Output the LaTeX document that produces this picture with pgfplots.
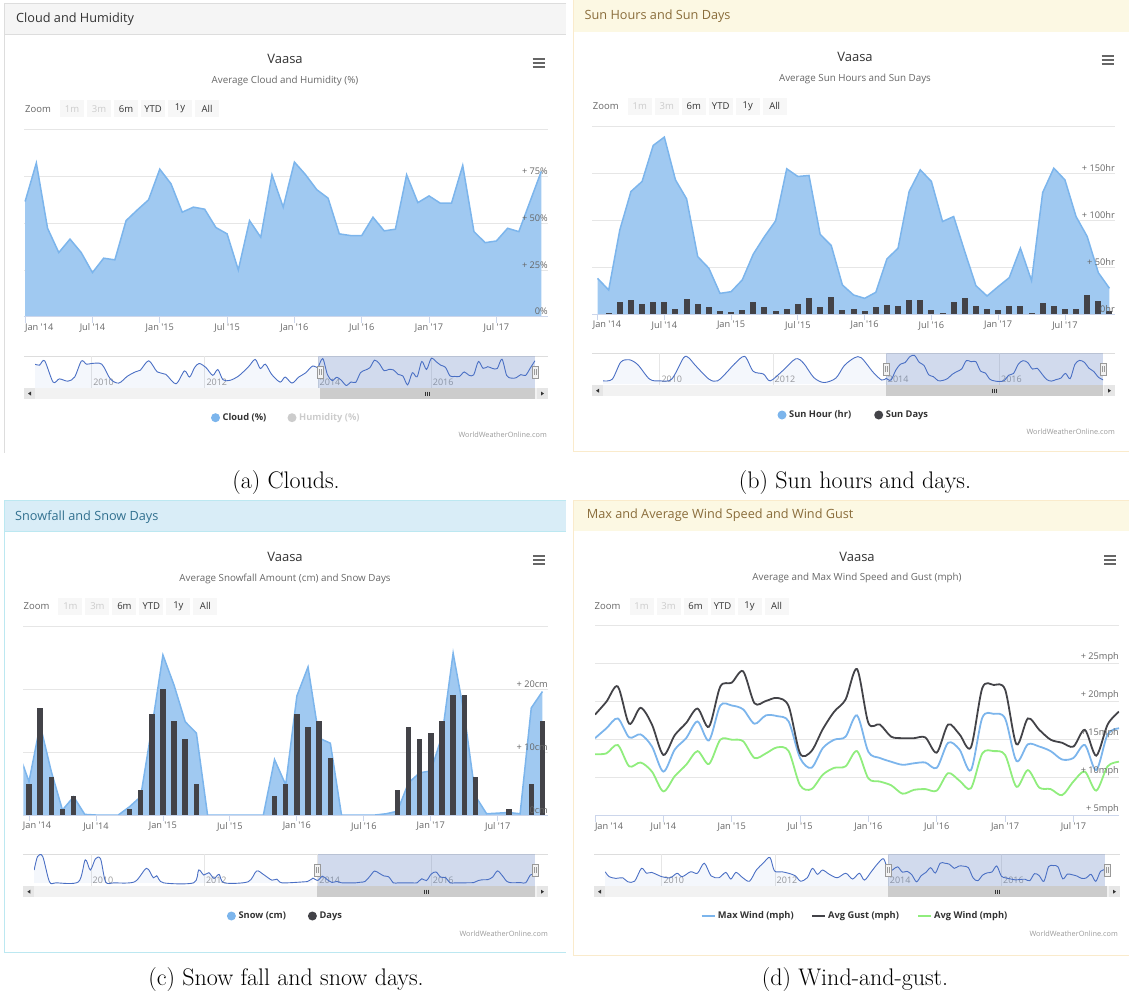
\documentclass[border=0pt]{standalone}
\usepackage{fontspec}
\usepackage{pgfplots}
\usepackage{pgfplotstable}
\pgfplotsset{compat=1.18}
\newfontfamily\hc{Open Sans}
\newcommand{\fs}[1]{\fontsize{#1}{#1}\selectfont}

\definecolor{hcblue}{HTML}{7CB5EC}
\definecolor{hcfill}{HTML}{A0C9F1}
\definecolor{hcdark}{HTML}{434348}
\definecolor{hcgreen}{HTML}{90ED7D}
\definecolor{hcgrid}{HTML}{E6E6E6}
\definecolor{hcaxis}{HTML}{CCD6EB}
\definecolor{hclabel}{HTML}{666666}
\definecolor{hctitle}{HTML}{333333}
\definecolor{hcdis}{HTML}{CCCCCC}
\definecolor{hcbtn}{HTML}{F7F7F7}
\definecolor{hcnavlab}{HTML}{999999}
\definecolor{navline}{HTML}{4A6FC4}
\definecolor{navmask}{RGB}{102,133,194}
\definecolor{scrtrack}{HTML}{F2F2F2}
\definecolor{scrthumb}{HTML}{CCCCCC}
\definecolor{scrbtn}{HTML}{E6E6E6}
\definecolor{hcarrow}{HTML}{333333}
\definecolor{hdrA}{HTML}{F5F5F5}
\definecolor{brdA}{HTML}{DDDDDD}
\definecolor{hdrB}{HTML}{FCF8E3}
\definecolor{txtB}{HTML}{8A6D3B}
\definecolor{brdB}{HTML}{FAEBCC}
\definecolor{hdrC}{HTML}{D9EDF7}
\definecolor{txtC}{HTML}{31708F}
\definecolor{brdC}{HTML}{BCE8F1}

% ---------------- data ----------------
\pgfplotstableread{
m v
0 61.6
1 82.2
2 47.3
3 34.3
4 41.5
5 34.3
6 23.6
7 31.3
8 30.4
9 51.4
10 57.1
11 62.5
12 78.9
13 71.1
14 55.9
15 58.6
16 57.5
17 47.7
18 44.3
19 25.0
20 51.4
21 42.5
22 75.9
23 58.6
24 82.7
25 75.9
26 67.9
27 63.4
28 44.3
29 43.4
30 43.4
31 53.2
32 45.9
33 46.8
34 75.9
35 61.0
36 64.6
37 60.7
38 60.7
39 80.9
40 45.5
41 39.6
42 40.5
43 47.3
44 45.5
45 61.6
46 77.7
}\cloud

\pgfplotstableread{
yr v
2009.0 70
2009.08 68
2009.17 77.5
2009.32 31
2009.43 38
2009.58 33
2009.70 42
2009.82 77
2009.91 70
2010.0 71.6
2010.18 70
2010.33 38
2010.48 28.8
2010.63 43.6
2010.77 53.2
2010.86 56.9
2011.01 77.5
2011.16 53.2
2011.31 48
2011.49 27.3
2011.64 55.4
2011.73 42
2011.82 62.8
2011.90 71.6
2012.02 62.8
2012.14 45.8
2012.23 58.4
2012.32 36.2
2012.44 34.7
2012.59 43.6
2012.77 64.3
2012.89 80.5
2012.98 60.6
2013.07 70
2013.18 48
2013.33 31
2013.42 42
2013.54 28.8
2013.66 42
2013.78 51
2013.90 65.7
2014.0 61.6
}\navA

\pgfplotstableread{
m v d
0 38.0 0
1 25.6 0.6
2 89.7 12.5
3 130.6 14.9
4 141.3 10.3
5 179.7 12.5
6 188.6 12.5
7 143.0 5.3
8 122.8 15.6
9 61.2 10.7
10 48.8 7.1
11 22.0 2.8
12 23.8 2.1
13 36.3 4.6
14 64.0 12.5
15 82.6 7.1
16 99.3 3.6
17 154.8 5.3
18 146.6 10.7
19 147.7 17.0
20 85.0 7.1
21 73.0 18.1
22 31.0 4.6
23 20.3 5.3
24 16.7 2.8
25 23.1 7.1
26 58.7 9.6
27 70.1 8.2
28 130.6 14.9
29 153.7 14.9
30 141.3 4.6
31 98.6 0.7
32 103.9 13.2
33 66.5 17.4
34 30.2 8.2
35 19.2 5.3
36 29.2 4.6
37 38.8 8.2
38 70.1 8.9
39 35.6 0.7
40 129.5 12.1
41 155.5 8.2
42 143.0 5.3
43 103.9 5.3
44 82.6 20.6
45 44.1 13.9
46 27.4 3.6
}\sun

\pgfplotstableread{
yr v
2009.0 21
2009.16 32
2009.31 144
2009.46 160
2009.61 128
2009.82 32
2010.0 21
2010.21 32
2010.42 173
2010.51 173
2010.63 122
2010.87 32
2011.02 21
2011.20 84
2011.32 133
2011.50 182
2011.65 84
2011.83 66
2011.95 21
2012.16 84
2012.40 166
2012.54 137
2012.72 43
2012.90 10
2013.11 39
2013.26 122
2013.44 173
2013.56 173
2013.77 77
2013.92 26
2014.0 38
}\navB

\pgfplotstableread{
m v
-1 10.3
0 5.3
1 14.3
2 6.9
3 0.8
4 2.9
5 0.1
6 0
7 0
8 0
9 1.3
10 2.9
11 13.8
12 25.4
13 20.6
14 14.8
15 13.0
16 0
17 0
18 0
19 0
20 0
21 0
22 8.8
23 4.8
24 18.9
25 23.5
26 12.2
27 11.4
28 0
29 0
30 0
31 0
32 0.2
33 0.6
34 5.1
35 6.7
36 7.0
37 12.5
38 25.7
39 16.0
40 3.0
41 0.2
42 0.3
43 0.4
44 0.2
45 17.0
46 19.6
}\snow

\pgfplotstableread{
m d
0 5
1 17
2 6
3 1
4 3
9 1
10 4
11 16
12 20
13 15
14 12
15 5
22 3
23 5
24 16
25 14
26 15
27 9
33 4
34 14
35 12
36 13
37 15
38 19
39 19
40 6
43 1
45 5
46 15
}\snowdays

\pgfplotstableread{
yr v
2009.0 27.7
2009.06 56.9
2009.15 56.9
2009.27 2.2
2009.39 0
2009.78 2.2
2009.90 49.6
2009.99 27.7
2010.08 51.8
2010.17 51.8
2010.26 2.2
2010.41 0
2010.77 2.2
2010.98 31.3
2011.10 10.9
2011.16 15.3
2011.28 0
2011.81 0
2011.90 27.7
2011.99 16.8
2012.08 21.9
2012.17 9.5
2012.26 18.2
2012.35 0
2012.77 2.2
2012.92 25.5
2013.04 18.2
2013.19 5.8
2013.28 8
2013.37 0
2013.76 2.2
2013.83 3.6
2013.917 10.3
}\navC

\pgfplotstableread{
m mx g av
0 15.2 18.3 13.1
1 16.5 20.0 13.2
2 17.8 22.0 14.3
3 15.3 17.1 11.5
4 15.7 19.2 12.0
5 14.1 17.0 10.8
6 10.8 13.0 8.2
7 13.7 15.6 10.2
8 15.2 17.2 11.7
9 17.4 19.1 13.5
10 14.9 16.7 11.8
11 19.5 22.0 15.0
12 19.5 22.5 15.0
13 19.0 24.0 14.8
14 17.1 19.8 12.6
15 18.2 20.1 13.2
16 18.1 20.5 14.0
17 17.4 19.4 13.5
18 12.6 13.2 9.0
19 11.3 13.5 8.5
20 13.9 16.4 10.4
21 15.0 18.7 11.3
22 15.4 20.3 11.5
23 18.2 24.3 13.5
24 13.4 17.2 9.9
25 12.6 17.0 9.5
26 12.1 15.4 9.0
27 11.7 15.2 7.9
28 11.9 15.2 8.4
29 12.0 15.3 8.5
30 11.3 13.3 8.3
31 14.6 17.0 10.6
32 13.7 15.7 9.6
33 11.0 14.0 8.6
34 17.9 21.8 13.2
35 18.4 22.2 13.5
36 17.8 21.6 13.0
37 12.2 14.4 8.8
38 14.4 17.8 11.0
39 14.1 16.3 8.7
40 13.5 15.0 8.5
41 12.4 14.6 7.7
42 12.6 14.1 9.5
43 14.3 16.3 10.8
44 11.0 12.9 8.3
45 15.7 17.0 11.5
46 16.5 18.7 12.1
}\wind

\pgfplotstableread{
yr v
2009.0 15.5
2009.07 13.2
2009.19 12.4
2009.31 12.7
2009.40 10.8
2009.52 11.1
2009.64 17.1
2009.73 14.8
2009.82 15.2
2010.0 13.2
2010.15 12.7
2010.27 14.8
2010.36 13.2
2010.51 15.5
2010.63 14.8
2010.75 19.5
2010.87 13.6
2011.01 12.7
2011.13 15.2
2011.22 12.1
2011.31 15.2
2011.43 12.7
2011.55 11.1
2011.67 16.3
2011.79 19.5
2011.91 22.2
2011.99 15.9
2012.12 15.5
2012.24 14.8
2012.36 13.6
2012.45 11.1
2012.57 12.7
2012.66 17.1
2012.75 14.3
2012.84 16.3
2012.96 14.3
2013.10 12.7
2013.25 14.8
2013.37 12.1
2013.49 14.8
2013.58 11.6
2013.70 15.5
2013.82 19.5
2013.92 21.5
2014.0 15.2
}\navD

% ---------------- styles ----------------
\pgfplotsset{
 hcmain/.style={
  scale only axis, anchor=south west, no marks,
  axis line style={draw=none},
  ymajorgrids, grid style={draw=hcgrid, line width=0.8pt},
  xtick pos=lower, ytick pos=right,
  tick align=outside, major tick length=6pt,
  xtick style={draw=hcaxis, line width=0.8pt},
  ytick style={draw=none},
  xtick={0,6,...,42},
  yticklabels={},
  ticklabel style={font=\hc\fs{9.2}, text=hclabel},
  xticklabel style={anchor=north, inner sep=0pt, yshift=-1pt},
 },
 hclab/.style={
  scale only axis, anchor=south west,
  axis line style={draw=none},
  xtick=\empty, ytick pos=right, yticklabel pos=right,
  major tick length=0pt, ytick style={draw=none},
  ticklabel style={font=\hc\fs{9.2}, text=hclabel},
  yticklabel style={anchor=south east, inner sep=0pt, yshift=1.5pt},
 },
 hcnav/.style={
  scale only axis, anchor=south west, no marks,
  axis line style={draw=none},
  xmin=2009, xmax=2017.8333,
  ytick=\empty,
  xtick={2010,2012,2014,2016},
  xticklabels={2010,2012,2014,2016},
  xmajorgrids, grid style={draw=hcgrid, line width=0.8pt},
  major tick length=0pt,
  xticklabel pos=lower,
  xticklabel style={anchor=south west, inner sep=0pt, xshift=1.5pt, yshift=2pt, font=\hc\fs{9}, text=hcnavlab},
 },
}

\newcommand{\zoomrow}[2]{%
 \node[anchor=west, inner sep=0pt, text=hclabel, font=\hc\fs{9.5}] at (#1,-#2) {Zoom};
 \foreach \k/\t/\c in {0/1m/hcdis,1/3m/hcdis,2/6m/hctitle,3/YTD/hctitle,4/1y/hctitle,5/All/hctitle}{
   \fill[hcbtn] (#1+35+27*\k,-#2-8.5) rectangle ++(24,17);
   \node[text=\c, font=\hc\fs{9.5}, inner sep=0pt] at (#1+47+27*\k,-#2) {\t};
 }}
\newcommand{\menuicon}[2]{%
 \foreach \dy in {-4,0,4}{\draw[hclabel, line width=1.8pt] (#1-6,-#2+\dy) -- (#1+6,-#2+\dy);}}
\newcommand{\handle}[2]{%
 \filldraw[fill=scrtrack, draw=hcnavlab, line width=0.6pt] (#1-3,-#2-6) rectangle (#1+3,-#2+6);
 \draw[hcnavlab, line width=0.5pt] (#1-1,-#2-3) -- (#1-1,-#2+3) (#1+1,-#2-3) -- (#1+1,-#2+3);}
\newcommand{\scrollbar}[5]{%
 \fill[scrtrack] (#1,-#3) rectangle (#2,-#3-11);
 \fill[scrthumb] (#4,-#3) rectangle (#5,-#3-11);
 \fill[scrbtn] (#1,-#3) rectangle (#1+11,-#3-11);
 \fill[scrbtn] (#2-11,-#3) rectangle (#2,-#3-11);
 \fill[hcarrow] (#1+4,-#3-5.5) -- (#1+7,-#3-3.5) -- (#1+7,-#3-7.5) -- cycle;
 \fill[hcarrow] (#2-4,-#3-5.5) -- (#2-7,-#3-3.5) -- (#2-7,-#3-7.5) -- cycle;
 \draw[hcarrow, line width=0.6pt] ({(#4+#5)/2-2},-#3-3.5) -- ++(0,-4) ({(#4+#5)/2},-#3-3.5) -- ++(0,-4) ({(#4+#5)/2+2},-#3-3.5) -- ++(0,-4);}
\newcommand{\legc}[5]{% x y color text textcolor
 \fill[#3] (#1,-#2) circle (4.5);
 \node[anchor=west, inner sep=0pt, font=\hc\bfseries\fs{9.3}, text=#5] at (#1+7,-#2) {#4};}
\newcommand{\legl}[4]{% x y color text
 \draw[#3, line width=1.6pt] (#1,-#2) -- (#1+13,-#2);
 \node[anchor=west, inner sep=0pt, font=\hc\bfseries\fs{9.3}, text=hctitle] at (#1+16,-#2) {#4};}

\begin{document}
\begin{tikzpicture}
\useasboundingbox (0pt,0pt) rectangle (1129pt,-996pt);

% ================= Panel A =================
\begin{scope}[x=1pt,y=1pt]
\fill[hdrA] (4,-3.5) rectangle (566,-34.3);
\draw[brdA, line width=0.8pt] (566,-3.5) -- (4,-3.5) -- (4,-453);
\draw[brdA, line width=0.8pt] (4,-34.3) -- (566,-34.3);
\node[anchor=west, inner sep=0pt, font=\hc\fs{12.7}, text=hctitle] at (16,-18.7) {Cloud and Humidity};
\node[font=\hc\fs{13}, text=hctitle] at (285,-59.3) {Vaasa};
\node[font=\hc\fs{9.8}, text=hclabel] at (285,-81) {Average Cloud and Humidity (\%)};
\menuicon{538.7}{62.7}
\zoomrow{25}{108.7}
\draw[brdA, line width=0.8pt] (24,-356) -- (548,-356);
\end{scope}
\begin{axis}[hcmain, at={(24pt,-316.7pt)}, width=524pt, height=187pt,
  xmin=-0.1, xmax=46.6, ymin=0, ymax=100, ytick={0,25,50,75,100},
  xticklabels={\makebox[0pt][l]{Jan '14},Jul '14,Jan '15,Jul '15,Jan '16,Jul '16,Jan '17,Jul '17}]
 \addplot[draw=none, fill=hcfill] table[x=m,y=v]{\cloud} \closedcycle;
 \addplot[hcblue, line width=1.5pt] table[x=m,y=v]{\cloud};
 \draw[hcaxis, line width=0.8pt] (rel axis cs:0,0) -- (rel axis cs:1,0);
\end{axis}
\begin{axis}[hclab, at={(24pt,-316.7pt)}, width=524pt, height=187pt,
  xmin=-0.1, xmax=46.6, ymin=0, ymax=100,
  ytick={0,25,50,75}, yticklabels={0\%,+ 25\%,+ 50\%,+ 75\%}]
\end{axis}
\begin{axis}[hcnav, at={(35pt,-388pt)}, width=500pt, height=32pt, ymin=18.1, ymax=87.9]
 \addplot[smooth, draw=none, fill=navline, fill opacity=0.06] table[x=yr,y=v]{\navA} \closedcycle;
 \fill[navmask, fill opacity=0.3] (axis cs:2014,18.1) rectangle (axis cs:2017.8333,87.9);
 \addplot[smooth, navline, line width=0.9pt] table[x=yr,y=v]{\navA};
 \addplot[smooth, navline, line width=0.9pt] table[x expr=2014+\thisrow{m}/12,y=v]{\cloud};
\end{axis}
\begin{scope}[x=1pt,y=1pt]
\scrollbar{24}{548}{388}{320}{535}
\handle{320}{372}\handle{535}{372}
\legc{215.5}{417.7}{hcblue}{Cloud (\%)}{hctitle}
\legc{292}{417.7}{hcdis}{Humidity (\%)}{hcdis}
\node[anchor=east, inner sep=0pt, font=\hc\fs{7.3}, text=hcnavlab] at (547,-435) {WorldWeatherOnline.com};
\node[font=\fs{24}] at (286,-483) {(a) Clouds.};
\end{scope}

% ================= Panel B =================
\begin{scope}[x=1pt,y=1pt]
\fill[hdrB] (573,0) rectangle (1129,-31.7);
\draw[brdB, line width=0.8pt] (573,0) -- (573,-451.5) -- (1129,-451.5);
\node[anchor=west, inner sep=0pt, font=\hc\fs{12.7}, text=txtB] at (584.5,-15.7) {Sun Hours and Sun Days};
\node[font=\hc\fs{13}, text=hctitle] at (855,-56.7) {Vaasa};
\node[font=\hc\fs{9.8}, text=hclabel] at (855,-78.7) {Average Sun Hours and Sun Days};
\menuicon{1107.5}{60}
\zoomrow{592.7}{106}
\draw[brdA, line width=0.8pt] (592,-353) -- (1115,-353);
\end{scope}
\begin{axis}[hcmain, at={(592pt,-314pt)}, width=523pt, height=187.6pt,
  xmin=-0.5, xmax=46.5, ymin=0, ymax=200, ytick={0,50,100,150,200},
  xticklabels={\makebox[0pt][l]{\hspace*{-4.7pt}Jan '14},Jul '14,Jan '15,Jul '15,Jan '16,Jul '16,Jan '17,Jul '17}]
 \addplot[draw=none, fill=hcfill] table[x=m,y=v]{\sun} \closedcycle;
 \addplot[hcblue, line width=1.5pt] table[x=m,y=v]{\sun};
 \addplot[ycomb, hcdark, line width=6pt] table[x=m,y=d]{\sun};
 \draw[hcaxis, line width=0.8pt] (rel axis cs:0,0) -- (rel axis cs:1,0);
\end{axis}
\begin{axis}[hclab, at={(592pt,-314pt)}, width=523pt, height=187.6pt,
  xmin=-0.5, xmax=46.5, ymin=0, ymax=200,
  ytick={0,50,100,150}, yticklabels={0hr,+ 50hr,+ 100hr,+ 150hr}]
\end{axis}
\begin{axis}[hcnav, at={(603.2pt,-385.2pt)}, width=500pt, height=32.2pt, ymin=-7.7, ymax=204.4]
 \addplot[smooth, draw=none, fill=navline, fill opacity=0.06] table[x=yr,y=v]{\navB} \closedcycle;
 \fill[navmask, fill opacity=0.3] (axis cs:2014,-7.7) rectangle (axis cs:2017.8333,204.4);
 \addplot[smooth, navline, line width=0.9pt] table[x=yr,y=v]{\navB};
 \addplot[smooth, navline, line width=0.9pt] table[x expr=2014+\thisrow{m}/12,y=v]{\sun};
\end{axis}
\begin{scope}[x=1pt,y=1pt]
\scrollbar{592}{1115}{385.2}{886}{1103}
\handle{886}{369}\handle{1103}{369}
\legc{782}{415}{hcblue}{Sun Hour (hr)}{hctitle}
\legc{878.7}{415}{hcdark}{Sun Days}{hctitle}
\node[anchor=east, inner sep=0pt, font=\hc\fs{7.3}, text=hcnavlab] at (1115,-432) {WorldWeatherOnline.com};
\node[font=\fs{24}] at (855,-483) {(b) Sun hours and days.};
\end{scope}

% ================= Panel C =================
\begin{scope}[x=1pt,y=1pt]
\fill[hdrC] (4,-500) rectangle (566,-531.7);
\draw[brdC, line width=0.8pt] (566,-500) -- (4,-500) -- (4,-952) -- (566,-952);
\draw[brdC, line width=0.8pt] (4,-531.7) -- (566,-531.7);
\node[anchor=west, inner sep=0pt, font=\hc\fs{12.7}, text=txtC] at (15,-516.7) {Snowfall and Snow Days};
\node[font=\hc\fs{13}, text=hctitle] at (285,-556.7) {Vaasa};
\node[font=\hc\fs{9.8}, text=hclabel] at (285,-579) {Average Snowfall Amount (cm) and Snow Days};
\menuicon{539}{560}
\zoomrow{23.4}{606}
\draw[brdA, line width=0.8pt] (23.4,-854) -- (548,-854);
\end{scope}
\begin{axis}[hcmain, at={(23.4pt,-815pt)}, width=524.6pt, height=189pt,
  xmin=-0.5, xmax=46.5, ymin=0, ymax=30, ytick={0,10,20,30},
  xticklabels={\makebox[0pt][l]{\hspace*{-6pt}Jan '14},Jul '14,Jan '15,Jul '15,Jan '16,Jul '16,Jan '17,Jul '17}]
 \addplot[draw=none, fill=hcfill] table[x=m,y=v]{\snow} \closedcycle;
 \addplot[hcblue, line width=1.5pt] table[x=m,y=v]{\snow};
 \addplot[ycomb, hcdark, line width=5.5pt] table[x=m,y=d]{\snowdays};
 \draw[hcaxis, line width=0.8pt] (rel axis cs:0,0) -- (rel axis cs:1,0);
\end{axis}
\begin{axis}[hclab, at={(23.4pt,-815pt)}, width=524.6pt, height=189pt,
  xmin=-0.5, xmax=46.5, ymin=0, ymax=30,
  ytick={0,10,20}, yticklabels={0cm,+ 10cm,+ 20cm}]
\end{axis}
\begin{axis}[hcnav, at={(34.2pt,-886.2pt)}, width=501pt, height=32.2pt, ymin=-7.3, ymax=62.2]
 \addplot[smooth, draw=none, fill=navline, fill opacity=0.06] table[x=yr,y=v]{\navC} \closedcycle;
 \fill[navmask, fill opacity=0.3] (axis cs:2014,-7.3) rectangle (axis cs:2017.8333,62.2);
 \addplot[smooth, navline, line width=0.9pt] table[x=yr,y=v]{\navC};
 \addplot[smooth, navline, line width=0.9pt] table[x expr=2014+\thisrow{m}/12,y=v]{\snow};
\end{axis}
\begin{scope}[x=1pt,y=1pt]
\scrollbar{23.4}{548}{886.2}{317.3}{535.2}
\handle{317.3}{870}\handle{535.2}{870}
\legc{231.4}{916}{hcblue}{Snow (cm)}{hctitle}
\legc{312.4}{916}{hcdark}{Days}{hctitle}
\node[anchor=east, inner sep=0pt, font=\hc\fs{7.3}, text=hcnavlab] at (548,-933.7) {WorldWeatherOnline.com};
\node[font=\fs{24}] at (286,-979) {(c) Snow fall and snow days.};
\end{scope}

% ================= Panel D =================
\begin{scope}[x=1pt,y=1pt]
\fill[hdrB] (573,-500) rectangle (1129,-531);
\draw[brdB, line width=0.8pt] (1129,-500) -- (573,-500) -- (573,-955) -- (1129,-955);
\node[anchor=west, inner sep=0pt, font=\hc\fs{12.7}, text=txtB] at (586.6,-515) {Max and Average Wind Speed and Wind Gust};
\node[font=\hc\fs{13}, text=hctitle] at (857,-556.7) {Vaasa};
\node[font=\hc\fs{9.8}, text=hclabel] at (857,-578) {Average and Max Wind Speed and Gust (mph)};
\menuicon{1110}{560}
\zoomrow{594.5}{606}
\draw[brdA, line width=0.8pt] (594,-854) -- (1120,-854);
\end{scope}
\begin{axis}[hcmain, at={(595pt,-815.7pt)}, width=524pt, height=190pt,
  xmin=0, xmax=46, ymin=5, ymax=30, ytick={5,10,15,20,25,30},
  xticklabels={\makebox[0pt][l]{Jan '14},Jul '14,Jan '15,Jul '15,Jan '16,Jul '16,Jan '17,Jul '17}]
 \addplot[smooth, hcblue, line width=1.8pt] table[x=m,y=mx]{\wind};
 \addplot[smooth, hcdark, line width=1.8pt] table[x=m,y=g]{\wind};
 \addplot[smooth, hcgreen, line width=1.8pt] table[x=m,y=av]{\wind};
 \draw[hcaxis, line width=0.8pt] (rel axis cs:0,0) -- (rel axis cs:1,0);
\end{axis}
\begin{axis}[hclab, at={(595pt,-815.7pt)}, width=524pt, height=190pt,
  xmin=0, xmax=46, ymin=5, ymax=30,
  ytick={5,10,15,20,25}, yticklabels={+ 5mph,+ 10mph,+ 15mph,+ 20mph,+ 25mph}]
\end{axis}
\begin{axis}[hcnav, at={(605.2pt,-886.2pt)}, width=500pt, height=32.2pt, ymin=8.74, ymax=23.8]
 \addplot[smooth, draw=none, fill=navline, fill opacity=0.06] table[x=yr,y=v]{\navD} \closedcycle;
 \fill[navmask, fill opacity=0.3] (axis cs:2014,8.74) rectangle (axis cs:2017.8333,23.8);
 \addplot[smooth, navline, line width=0.9pt] table[x=yr,y=v]{\navD};
 \addplot[smooth, navline, line width=0.9pt] table[x expr=2014+\thisrow{m}/12,y=mx]{\wind};
\end{axis}
\begin{scope}[x=1pt,y=1pt]
\scrollbar{594}{1120}{886.2}{888}{1107}
\handle{888}{870}\handle{1107}{870}
\legl{701.7}{915.7}{hcblue}{Max Wind (mph)}
\legl{812}{915.7}{hcdark}{Avg Gust (mph)}
\legl{918}{915.7}{hcgreen}{Avg Wind (mph)}
\node[anchor=east, inner sep=0pt, font=\hc\fs{7.3}, text=hcnavlab] at (1118,-934) {WorldWeatherOnline.com};
\node[font=\fs{24}] at (855,-979) {(d) Wind-and-gust.};
\end{scope}
\end{tikzpicture}
\end{document}
